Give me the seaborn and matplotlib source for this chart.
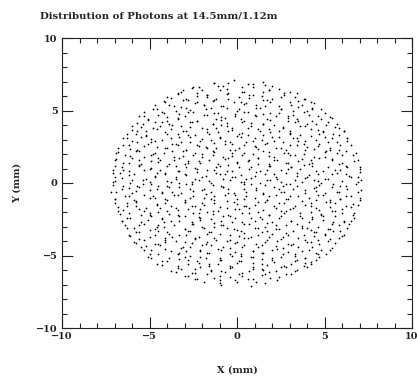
#%%
# Photon hit positions on the detector plane
import numpy as np
import pandas as pd
import matplotlib
matplotlib.use("Agg")
import matplotlib.pyplot as plt
import seaborn as sns
from matplotlib.ticker import MultipleLocator

title = "Distribution of Photons at 14.5mm/1.12m"
x_label = "X (mm)"
y_label = "Y (mm)"
ticks = [-10, -5, 0, 5, 10]

# first pass over the spot, one line per horizontal band (top to bottom)
x_mm = [
    -1.3, -0.2, 0.6, 1.5,
    -3.2, -2.5, -2.0, -1.1, -0.6, 0.3, 0.9, 1.8, 2.4, 3.0,
    -4.0, -3.4, -2.9, -2.3, -1.7, -1.2, -0.5, 0.1, 0.7, 1.4, 2.0, 2.7, 3.3, 3.9,
    -4.7, -4.1, -3.6, -3.1, -2.4, -1.9, -1.3, -0.8, -0.2, 0.5, 1.1, 1.7, 2.4, 3.0, 3.7, 4.4,
    -5.3, -4.6, -4.2, -3.5, -2.9, -2.5, -1.8, -1.1, -0.6, 0.0, 0.6, 1.3, 1.9, 2.5, 3.2, 3.8, 4.3, 5.0,
    -5.6, -5.1, -4.5, -4.0, -3.4, -3.0, -2.3, -1.7, -1.2, -0.7, -0.1, 0.4, 1.0, 1.7, 2.2, 2.9, 3.5, 4.1, 4.8, 5.4,
    -6.0, -5.4, -4.8, -4.3, -3.7, -3.2, -2.6, -2.0, -1.4, -0.9, -0.3, 0.3, 0.8, 1.5, 2.1, 2.6, 3.3, 3.9, 4.5, 5.1, 5.8,
    -6.3, -5.7, -5.2, -4.6, -4.1, -3.4, -2.9, -2.4, -1.7, -1.1, -0.5, 0.1, 0.6, 1.2, 1.9, 2.4, 3.0, 3.6, 4.2, 4.9, 5.5, 6.1,
    -6.5, -6.0, -5.5, -4.9, -4.3, -3.8, -3.2, -2.7, -2.1, -1.5, -1.0, -0.4, 0.2, 0.9, 1.4, 2.0, 2.6, 3.2, 3.9, 4.5, 5.0, 5.7, 6.3,
    -6.8, -6.2, -5.7, -5.1, -4.6, -4.0, -3.5, -2.9, -2.3, -1.8, -1.2, -0.7, -0.1, 0.4, 1.1, 1.6, 2.2, 2.8, 3.4, 4.0, 4.7, 5.3, 5.8, 6.5,
    -6.9, -6.4, -5.8, -5.3, -4.8, -4.2, -3.6, -3.1, -2.5, -2.0, -1.4, -0.8, -0.3, 0.3, 0.9, 1.5, 2.1, 2.7, 3.3, 3.8, 4.4, 5.1, 5.7, 6.6,
    -7.0, -6.5, -6.0, -5.5, -4.9, -4.4, -3.9, -3.3, -2.8, -2.2, -1.6, -1.1, -0.5, 0.0, 0.6, 1.2, 1.8, 2.3, 2.9, 3.5, 4.1, 4.7, 5.4, 6.0, 6.7,
    -7.1, -6.6, -6.2, -5.6, -5.0, -4.4, -4.0, -3.4, -2.9, -2.3, -1.7, -1.0, -0.6, 0.1, 0.7, 1.3, 1.9, 2.5, 3.1, 3.6, 4.3, 4.9, 5.6, 6.3, 7.0,
    -7.0, -6.7, -5.9, -5.2, -4.7, -4.1, -3.5, -3.0, -2.4, -1.8, -1.2, -0.7, -0.1, 0.5, 1.0, 1.6, 2.3, 2.8, 3.4, 4.0, 4.6, 5.2, 5.7, 6.4, 6.9,
    -7.1, -6.5, -6.1, -5.4, -4.9, -4.5, -3.8, -3.3, -2.6, -2.2, -1.5, -0.9, -0.4, 0.2, 0.8, 1.3, 1.9, 2.6, 3.0, 3.7, 4.4, 4.8, 5.5, 6.2, 6.9,
    -7.2, -6.6, -6.0, -5.6, -5.0, -4.3, -3.9, -3.2, -2.7, -2.0, -1.5, -0.8, -0.2, 0.4, 1.1, 1.5, 2.1, 2.7, 3.2, 3.9, 4.5, 5.0, 5.8, 6.3, 7.1,
    -7.0, -6.4, -5.9, -5.3, -4.7, -4.1, -3.6, -3.0, -2.5, -1.9, -1.3, -0.7, 0.0, 0.5, 1.0, 1.7, 2.2, 2.9, 3.5, 4.1, 4.6, 5.3, 5.9, 6.5, 7.0,
    -7.0, -6.3, -5.8, -5.2, -4.6, -4.1, -3.5, -3.0, -2.4, -1.9, -1.3, -0.6, -0.2, 0.5, 1.0, 1.6, 2.2, 2.7, 3.3, 3.9, 4.5, 5.1, 5.6, 6.2, 6.9,
    -6.8, -6.2, -5.6, -5.0, -4.5, -4.0, -3.4, -2.8, -2.2, -1.7, -1.1, -0.5, 0.1, 0.7, 1.2, 1.8, 2.5, 3.0, 3.6, 4.2, 4.8, 5.4, 6.0, 6.7,
    -6.6, -6.1, -5.5, -4.9, -4.3, -3.8, -3.3, -2.6, -2.1, -1.5, -0.9, -0.4, 0.3, 0.8, 1.4, 2.0, 2.5, 3.1, 3.7, 4.3, 4.9, 5.5, 6.1, 6.7,
    -6.4, -5.9, -5.3, -4.7, -4.2, -3.6, -3.0, -2.5, -1.9, -1.3, -0.8, -0.2, 0.4, 1.0, 1.6, 2.2, 2.8, 3.4, 4.0, 4.6, 5.2, 5.8, 6.4,
    -6.2, -5.6, -5.0, -4.5, -3.9, -3.3, -2.8, -2.2, -1.6, -1.0, -0.4, 0.2, 0.8, 1.4, 2.0, 2.6, 3.2, 3.8, 4.4, 5.0, 5.5, 6.1,
    -5.9, -5.3, -4.7, -4.1, -3.5, -3.0, -2.4, -1.8, -1.2, -0.6, 0.0, 0.6, 1.1, 1.7, 2.3, 2.9, 3.5, 4.0, 4.6, 5.2, 5.8,
    -5.5, -4.9, -4.4, -3.8, -3.2, -2.7, -2.1, -1.5, -0.9, -0.4, 0.3, 0.9, 1.4, 2.0, 2.6, 3.1, 3.7, 4.3, 4.8, 5.4,
    -5.1, -4.5, -3.9, -3.3, -2.7, -2.1, -1.6, -1.0, -0.4, 0.2, 0.8, 1.5, 2.0, 2.6, 3.3, 3.9, 4.5, 5.1,
    -4.6, -4.0, -3.4, -2.8, -2.2, -1.6, -1.0, -0.4, 0.2, 0.9, 1.4, 2.0, 2.7, 3.3, 3.9, 4.5,
    -3.8, -3.2, -2.6, -2.1, -1.5, -0.9, -0.3, 0.3, 0.9, 1.5, 2.2, 2.8, 3.4, 4.0,
    -3.0, -2.3, -1.7, -1.0, -0.4, 0.3, 0.9, 1.6, 2.4, 3.1,
    -0.9, 0.0, 0.8, 1.6,
]
y_mm = [
    6.9, 7.1, 6.8, 7.0,
    6.3, 6.6, 6.4, 6.7, 6.5, 6.3, 6.6, 6.4, 6.5, 6.3,
    5.9, 6.2, 5.8, 6.0, 6.1, 5.8, 6.2, 5.9, 6.1, 6.0, 5.8, 6.2, 5.9, 5.8,
    5.4, 5.6, 5.3, 5.7, 5.5, 5.4, 5.7, 5.3, 5.6, 5.5, 5.4, 5.7, 5.3, 5.6, 5.4, 5.5,
    4.9, 5.1, 4.8, 5.0, 5.2, 4.9, 5.1, 4.8, 5.2, 5.0, 4.9, 5.2, 4.8, 5.1, 5.0, 4.9, 5.2, 4.8,
    4.6, 4.4, 4.7, 4.3, 4.5, 4.6, 4.3, 4.7, 4.4, 4.5, 4.6, 4.3, 4.7, 4.4, 4.6, 4.5, 4.3, 4.7, 4.4, 4.5,
    3.9, 4.1, 3.8, 4.2, 4.0, 3.9, 4.2, 3.8, 4.1, 4.0, 3.8, 4.2, 3.9, 4.1, 4.0, 3.8, 4.2, 3.9, 4.1, 4.0, 3.8,
    3.4, 3.6, 3.3, 3.7, 3.5, 3.4, 3.6, 3.3, 3.7, 3.5, 3.6, 3.4, 3.3, 3.7, 3.5, 3.6, 3.4, 3.3, 3.7, 3.5, 3.4, 3.6,
    3.1, 2.9, 3.2, 2.8, 3.0, 3.1, 2.8, 3.2, 2.9, 3.0, 3.1, 2.8, 3.2, 2.9, 3.0, 3.2, 2.8, 3.1, 2.9, 3.0, 3.2, 2.8, 3.1,
    2.4, 2.6, 2.3, 2.7, 2.5, 2.4, 2.7, 2.3, 2.6, 2.5, 2.4, 2.7, 2.3, 2.6, 2.5, 2.7, 2.4, 2.3, 2.6, 2.5, 2.7, 2.4, 2.3, 2.6,
    2.1, 1.9, 2.2, 1.8, 2.0, 2.1, 1.8, 2.2, 1.9, 2.0, 2.2, 1.8, 2.1, 1.9, 2.0, 2.2, 1.8, 2.1, 1.9, 2.0, 1.8, 2.2, 2.1, 1.9,
    1.6, 1.4, 1.7, 1.3, 1.5, 1.6, 1.3, 1.7, 1.4, 1.5, 1.6, 1.3, 1.7, 1.4, 1.5, 1.7, 1.3, 1.6, 1.4, 1.5, 1.3, 1.7, 1.6, 1.4, 1.5,
    0.9, 1.1, 0.8, 1.2, 1.0, 0.9, 1.2, 0.8, 1.1, 1.0, 0.9, 1.2, 0.8, 1.1, 1.0, 0.8, 1.2, 0.9, 1.1, 1.0, 1.2, 0.8, 0.9, 1.1, 1.0,
    0.4, 0.7, 0.6, 0.3, 0.5, 0.7, 0.4, 0.6, 0.3, 0.5, 0.7, 0.6, 0.4, 0.3, 0.5, 0.6, 0.3, 0.7, 0.5, 0.4, 0.6, 0.3, 0.7, 0.5, 0.4,
    0.1, -0.2, 0.0, 0.2, -0.1, -0.2, 0.1, 0.0, -0.1, 0.2, 0.0, -0.2, 0.2, 0.1, -0.1, 0.0, 0.2, -0.2, -0.1, 0.1, 0.2, 0.0, -0.1, -0.2, 0.1,
    -0.6, -0.4, -0.7, -0.3, -0.5, -0.6, -0.3, -0.7, -0.4, -0.5, -0.6, -0.3, -0.7, -0.4, -0.5, -0.7, -0.3, -0.6, -0.4, -0.5, -0.3, -0.7, -0.6, -0.4, -0.5,
    -1.1, -0.9, -1.2, -0.8, -1.0, -1.1, -0.8, -1.2, -0.9, -1.0, -1.2, -0.8, -1.1, -0.9, -1.0, -1.2, -0.8, -1.1, -0.9, -1.0, -0.8, -1.2, -1.1, -0.9, -1.0,
    -1.4, -1.6, -1.3, -1.7, -1.5, -1.4, -1.7, -1.3, -1.6, -1.5, -1.4, -1.7, -1.3, -1.6, -1.5, -1.3, -1.7, -1.4, -1.6, -1.5, -1.7, -1.3, -1.4, -1.6, -1.5,
    -1.9, -2.1, -1.8, -2.2, -2.0, -1.9, -2.2, -1.8, -2.1, -2.0, -1.9, -2.2, -1.8, -2.1, -2.0, -2.2, -1.9, -1.8, -2.1, -2.0, -2.2, -1.9, -1.8, -2.1,
    -2.6, -2.4, -2.7, -2.3, -2.5, -2.6, -2.3, -2.7, -2.4, -2.5, -2.6, -2.3, -2.7, -2.4, -2.5, -2.7, -2.3, -2.6, -2.4, -2.5, -2.3, -2.7, -2.6, -2.4,
    -2.9, -3.1, -2.8, -3.2, -3.0, -2.9, -3.2, -2.8, -3.1, -3.0, -2.9, -3.2, -2.8, -3.1, -3.0, -3.2, -2.9, -2.8, -3.1, -3.0, -3.2, -2.9, -2.8,
    -3.6, -3.4, -3.7, -3.3, -3.5, -3.6, -3.3, -3.7, -3.4, -3.5, -3.6, -3.3, -3.7, -3.4, -3.5, -3.7, -3.3, -3.6, -3.4, -3.5, -3.3, -3.6,
    -4.1, -3.9, -4.2, -3.8, -4.0, -4.1, -3.8, -4.2, -3.9, -4.0, -4.1, -3.8, -4.2, -3.9, -4.0, -4.2, -3.8, -4.1, -3.9, -4.0, -3.8,
    -4.4, -4.6, -4.3, -4.7, -4.5, -4.4, -4.7, -4.3, -4.6, -4.5, -4.4, -4.7, -4.3, -4.6, -4.5, -4.3, -4.7, -4.4, -4.6, -4.5,
    -5.1, -4.9, -5.2, -4.8, -5.0, -5.1, -4.8, -5.2, -4.9, -5.0, -5.1, -4.8, -5.2, -4.9, -5.0, -5.2, -4.8, -4.9,
    -5.6, -5.4, -5.7, -5.3, -5.5, -5.6, -5.3, -5.7, -5.4, -5.5, -5.6, -5.3, -5.7, -5.4, -5.5, -5.3,
    -6.1, -5.9, -6.2, -5.8, -6.0, -6.1, -5.8, -6.2, -5.9, -6.0, -6.1, -5.8, -6.0, -5.8,
    -6.4, -6.6, -6.3, -6.7, -6.5, -6.4, -6.6, -6.3, -6.5, -6.3,
    -7.0, -6.8, -7.1, -6.9,
]

# second pass, bands shifted by a quarter millimetre
x_mm_b = [
    -2.6, -2.2, -1.3, -0.8, -0.5, 0.3, 0.9, 1.6, 2.0,
    -3.4, -3.1, -2.3, -1.7, -1.0, -0.6, 0.4, 0.9, 1.5, 1.8, 2.7, 3.4,
    -4.2, -3.8, -2.8, -2.3, -1.7, -1.4, -0.5, 0.2, 0.7, 1.5, 1.9, 2.5, 3.5, 3.8, 4.2,
    -4.8, -3.9, -3.2, -2.7, -1.9, -1.5, -0.9, 0.1, 0.4, 1.1, 1.6, 2.5, 3.1, 3.5, 4.3, 4.8,
    -5.3, -4.3, -4.0, -3.3, -2.8, -1.9, -1.3, -0.9, -0.1, 0.4, 1.1, 1.5, 2.4, 2.9, 3.2, 4.0, 4.6, 5.3,
    -5.7, -5.1, -4.7, -3.9, -3.4, -2.7, -2.3, -1.4, -0.9, -0.6, 0.2, 0.8, 1.5, 1.9, 2.9, 3.4, 4.0, 4.3, 5.2, 5.7,
    -6.0, -5.5, -5.2, -4.4, -3.8, -3.1, -2.7, -1.7, -1.2, -0.6, -0.3, 0.6, 1.3, 1.8, 2.6, 3.0, 3.6, 4.6, 4.9, 5.6, 6.1,
    -6.3, -5.8, -5.2, -4.9, -4.0, -3.3, -2.8, -2.0, -1.6, -1.0, 0.0, 0.3, 1.0, 1.5, 2.4, 3.0, 3.4, 4.2, 4.7, 5.4, 5.8, 6.3,
    -6.5, -5.7, -5.3, -4.7, -3.7, -3.4, -2.7, -2.2, -1.3, -0.7, -0.3, 0.5, 1.0, 1.7, 2.1, 3.0, 3.5, 3.8, 4.6, 5.2, 5.9, 6.3,
    -6.8, -6.1, -5.6, -4.7, -4.1, -3.7, -2.9, -2.4, -1.7, -1.3, -0.4, 0.1, 0.4, 1.2, 1.8, 2.5, 2.9, 3.9, 4.4, 5.0, 5.3, 6.2, 6.8,
    -6.9, -6.1, -5.6, -4.9, -4.5, -3.6, -3.1, -2.8, -2.0, -1.4, -0.7, -0.3, 0.7, 1.2, 1.8, 2.1, 3.0, 3.7, 4.2, 5.0, 5.4, 6.0, 6.9,
    -7.0, -6.2, -5.6, -4.9, -4.5, -3.5, -3.0, -2.4, -2.1, -1.2, -0.5, 0.0, 0.8, 1.2, 1.8, 2.8, 3.1, 3.8, 4.3, 5.2, 5.8, 6.2, 7.0,
    -7.1, -6.5, -6.2, -5.3, -4.6, -4.1, -3.3, -2.9, -2.3, -1.3, -1.0, -0.3, 0.2, 1.1, 1.7, 2.1, 2.9, 3.4, 4.1, 4.5, 5.4, 5.9, 6.2, 7.0,
    -7.0, -6.6, -6.0, -5.0, -4.7, -4.0, -3.5, -2.6, -2.0, -1.6, -0.8, -0.3, 0.4, 0.8, 1.7, 2.2, 2.5, 3.3, 3.9, 4.6, 5.0, 6.0, 6.5, 7.1,
    -7.1, -6.2, -5.7, -5.4, -4.6, -4.0, -3.3, -2.9, -1.9, -1.4, -0.8, -0.5, 0.4, 1.1, 1.6, 2.4, 2.8, 3.4, 4.4, 4.7, 5.4, 5.9, 6.8,
    -6.9, -6.2, -5.8, -4.8, -4.3, -3.7, -3.4, -2.5, -1.8, -1.3, -0.5, -0.1, 0.5, 1.5, 1.8, 2.5, 3.0, 3.9, 4.5, 4.9, 5.7, 6.2, 6.9,
    -7.0, -6.3, -5.8, -5.0, -4.6, -4.0, -3.0, -2.7, -2.0, -1.5, -0.6, 0.0, 0.4, 1.2, 1.7, 2.4, 2.8, 3.7, 4.2, 4.5, 5.3, 5.9, 6.6, 7.0,
    -6.8, -6.5, -5.8, -5.3, -4.4, -3.8, -3.4, -2.6, -2.1, -1.4, -1.0, -0.1, 0.4, 0.7, 1.5, 2.1, 2.8, 3.2, 4.2, 4.7, 5.3, 5.6, 6.5,
    -6.7, -6.3, -5.5, -5.0, -4.3, -3.9, -3.0, -2.5, -2.2, -1.4, -0.8, -0.1, 0.3, 1.3, 1.8, 2.4, 2.7, 3.6, 4.3, 4.8, 5.6, 6.0, 6.6,
    -6.6, -5.6, -5.1, -4.5, -4.2, -3.3, -2.6, -2.1, -1.3, -0.9, -0.3, 0.7, 1.0, 1.7, 2.2, 3.1, 3.7, 4.1, 4.9, 5.4, 6.1, 6.5,
    -6.3, -5.8, -5.0, -4.6, -4.0, -3.0, -2.7, -2.0, -1.5, -0.6, 0.0, 0.4, 1.2, 1.7, 2.4, 2.8, 3.7, 4.2, 4.5, 5.3, 5.9, 6.3,
    -6.1, -5.6, -4.7, -4.1, -3.7, -2.9, -2.4, -1.7, -1.3, -0.4, 0.1, 0.4, 1.2, 1.8, 2.5, 2.9, 3.9, 4.4, 5.0, 5.3, 6.0,
    -5.8, -5.2, -4.5, -4.1, -3.1, -2.6, -2.0, -1.7, -0.8, -0.1, 0.4, 1.2, 1.6, 2.2, 3.2, 3.5, 4.2, 4.7, 5.6,
    -5.3, -5.0, -4.1, -3.4, -2.9, -2.1, -1.7, -1.1, -0.1, 0.2, 0.9, 1.4, 2.3, 2.9, 3.3, 4.1, 4.6, 5.3,
    -4.9, -4.3, -3.3, -3.0, -2.3, -1.8, -0.9, -0.3, 0.1, 0.9, 1.4, 2.1, 2.5, 3.4, 3.9, 4.2, 4.7,
    -4.3, -3.4, -2.8, -2.4, -1.6, -1.1, -0.4, 0.0, 0.9, 1.4, 1.7, 2.5, 3.1, 3.8, 4.2,
    -3.5, -2.8, -2.4, -1.5, -1.0, -0.7, 0.1, 0.7, 1.4, 1.8, 2.8, 3.3,
    -2.4, -1.9, -1.3, -1.0, -0.1, 0.6, 1.1, 1.9, 2.3,
]
y_mm_b = [
    6.58, 6.63, 6.87, 6.71, 6.92, 6.60, 6.84, 6.77, 6.66,
    6.12, 6.38, 6.21, 6.07, 6.44, 6.16, 6.31, 6.05, 6.27, 6.40, 6.10, 6.19,
    5.63, 5.88, 5.71, 5.56, 5.92, 5.67, 5.79, 5.60, 5.85, 5.74, 5.58, 5.90, 5.66, 5.81, 5.62,
    5.13, 5.37, 5.22, 5.06, 5.41, 5.18, 5.29, 5.09, 5.44, 5.15, 5.32, 5.07, 5.39, 5.24, 5.11, 5.08,
    4.62, 4.88, 4.57, 4.79, 4.93, 4.66, 4.84, 4.55, 4.73, 4.90, 4.61, 4.77, 4.86, 4.59, 4.70, 4.94, 4.64, 4.58,
    4.14, 4.37, 4.22, 4.06, 4.43, 4.19, 4.28, 4.08, 4.35, 4.11, 4.41, 4.16, 4.05, 4.32, 4.25, 4.44, 4.10, 4.30, 4.18, 4.07,
    3.66, 3.89, 3.57, 3.93, 3.72, 3.60, 3.85, 3.55, 3.78, 3.91, 3.64, 3.81, 3.58, 3.75, 3.87, 3.62, 3.94, 3.68, 3.56, 3.83, 3.61,
    3.12, 3.38, 3.23, 3.06, 3.41, 3.17, 3.30, 3.05, 3.36, 3.14, 3.27, 3.44, 3.08, 3.33, 3.19, 3.42, 3.07, 3.25, 3.39, 3.13, 3.29, 3.10,
    2.63, 2.86, 2.57, 2.92, 2.70, 2.61, 2.83, 2.55, 2.77, 2.90, 2.66, 2.81, 2.58, 2.73, 2.88, 2.60, 2.93, 2.68, 2.56, 2.84, 2.65, 2.91,
    2.14, 2.37, 2.22, 2.06, 2.43, 2.18, 2.29, 2.05, 2.39, 2.11, 2.26, 2.44, 2.08, 2.34, 2.17, 2.41, 2.07, 2.25, 2.36, 2.12, 2.30, 2.20, 2.09,
    1.65, 1.88, 1.57, 1.92, 1.70, 1.61, 1.84, 1.55, 1.79, 1.90, 1.66, 1.83, 1.59, 1.74, 1.87, 1.62, 1.94, 1.68, 1.56, 1.81, 1.64, 1.91, 1.60,
    1.14, 1.37, 1.22, 1.06, 1.42, 1.18, 1.29, 1.05, 1.38, 1.12, 1.26, 1.44, 1.09, 1.33, 1.17, 1.41, 1.07, 1.24, 1.36, 1.13, 1.30, 1.20, 1.10,
    0.66, 0.89, 0.57, 0.93, 0.72, 0.60, 0.85, 0.55, 0.78, 0.91, 0.64, 0.81, 0.58, 0.75, 0.87, 0.62, 0.94, 0.68, 0.56, 0.83, 0.65, 0.90, 0.61, 0.74,
    0.13, 0.36, 0.21, 0.07, 0.42, 0.17, 0.29, 0.04, 0.38, 0.12, 0.26, 0.44, 0.09, 0.33, 0.18, 0.41, 0.06, 0.24, 0.37, 0.14, 0.28, 0.11, 0.43, 0.19,
    -0.14, -0.37, -0.22, -0.06, -0.41, -0.18, -0.29, -0.05, -0.38, -0.12, -0.26, -0.44, -0.09, -0.33, -0.17, -0.42, -0.07, -0.24, -0.36, -0.13, -0.30, -0.20, -0.10,
    -0.63, -0.88, -0.57, -0.92, -0.71, -0.61, -0.84, -0.56, -0.79, -0.90, -0.66, -0.82, -0.59, -0.74, -0.87, -0.60, -0.93, -0.68, -0.55, -0.83, -0.65, -0.91, -0.62,
    -1.13, -1.36, -1.22, -1.06, -1.42, -1.17, -1.29, -1.05, -1.38, -1.12, -1.26, -1.44, -1.09, -1.33, -1.18, -1.41, -1.07, -1.24, -1.37, -1.14, -1.28, -1.11, -1.43, -1.20,
    -1.64, -1.87, -1.58, -1.93, -1.71, -1.62, -1.84, -1.56, -1.78, -1.91, -1.67, -1.82, -1.59, -1.74, -1.88, -1.61, -1.94, -1.69, -1.57, -1.83, -1.66, -1.92, -1.63,
    -2.12, -2.38, -2.21, -2.07, -2.43, -2.16, -2.30, -2.05, -2.35, -2.13, -2.27, -2.44, -2.09, -2.32, -2.19, -2.40, -2.06, -2.25, -2.37, -2.15, -2.29, -2.10, -2.22,
    -2.64, -2.87, -2.58, -2.93, -2.71, -2.62, -2.84, -2.56, -2.78, -2.91, -2.67, -2.82, -2.59, -2.74, -2.88, -2.61, -2.94, -2.69, -2.57, -2.83, -2.66, -2.60,
    -3.13, -3.37, -3.22, -3.06, -3.41, -3.18, -3.29, -3.05, -3.38, -3.12, -3.26, -3.44, -3.09, -3.33, -3.17, -3.42, -3.07, -3.24, -3.36, -3.14, -3.28, -3.10,
    -3.65, -3.88, -3.57, -3.92, -3.70, -3.61, -3.84, -3.55, -3.79, -3.90, -3.66, -3.81, -3.58, -3.75, -3.87, -3.62, -3.94, -3.68, -3.56, -3.83, -3.63,
    -4.13, -4.37, -4.21, -4.06, -4.42, -4.17, -4.29, -4.05, -4.38, -4.12, -4.26, -4.44, -4.09, -4.33, -4.18, -4.41, -4.07, -4.24, -4.15,
    -4.62, -4.87, -4.57, -4.92, -4.70, -4.61, -4.84, -4.55, -4.78, -4.90, -4.66, -4.81, -4.58, -4.74, -4.88, -4.60, -4.93, -4.59,
    -5.14, -5.36, -5.22, -5.07, -5.41, -5.17, -5.29, -5.06, -5.38, -5.12, -5.26, -5.44, -5.09, -5.33, -5.18, -5.42, -5.10,
    -5.64, -5.88, -5.57, -5.92, -5.70, -5.61, -5.84, -5.55, -5.79, -5.90, -5.66, -5.81, -5.58, -5.74, -5.62,
    -6.13, -6.38, -6.21, -6.07, -6.43, -6.16, -6.30, -6.05, -6.36, -6.12, -6.27, -6.10,
    -6.62, -6.86, -6.58, -6.93, -6.71, -6.60, -6.84, -6.57, -6.66,
]
assert len(x_mm) == len(y_mm), (len(x_mm), len(y_mm))
assert len(x_mm_b) == len(y_mm_b), (len(x_mm_b), len(y_mm_b))

photons = pd.DataFrame({"x": x_mm + x_mm_b, "y": y_mm + y_mm_b})
print(len(photons), "photons")

#%%
sns.set_style("ticks")
plt.rcParams["font.family"] = ["DejaVu Serif"]
plt.rcParams["axes.unicode_minus"] = True

fig = plt.figure(figsize=(4.17, 3.76), dpi=100)
ax = fig.add_axes([62 / 417, 48 / 376, 350 / 417, 290 / 376])

sns.scatterplot(data=photons, x="x", y="y", s=1.6, color="black",
                linewidth=0, ax=ax, legend=False)

ax.set_xlim(-10, 10)
ax.set_ylim(-10, 10)
ax.set_xticks(ticks)
ax.set_yticks(ticks)
ax.xaxis.set_minor_locator(MultipleLocator(1))
ax.yaxis.set_minor_locator(MultipleLocator(1))
ax.tick_params(which="both", direction="in", top=True, right=True,
               width=0.8, colors="#222222", labelsize=7, pad=3)
ax.tick_params(which="major", length=8)
ax.tick_params(which="minor", length=3.5)
for lab in ax.get_xticklabels() + ax.get_yticklabels():
    lab.set_fontweight("bold")
for sp in ax.spines.values():
    sp.set_linewidth(0.8)
    sp.set_color("#222222")

ax.set_xlabel(x_label, fontsize=7, fontweight="bold")
ax.set_ylabel(y_label, fontsize=7, fontweight="bold")
ax.xaxis.set_label_coords(0.5, -0.13)
ax.yaxis.set_label_coords(-0.115, 0.5)

fig.text(40 / 417, 1 - 16 / 376, title, fontsize=7.3, fontweight="bold",
         ha="left", va="center")

fig.savefig("out.png", dpi=100)
